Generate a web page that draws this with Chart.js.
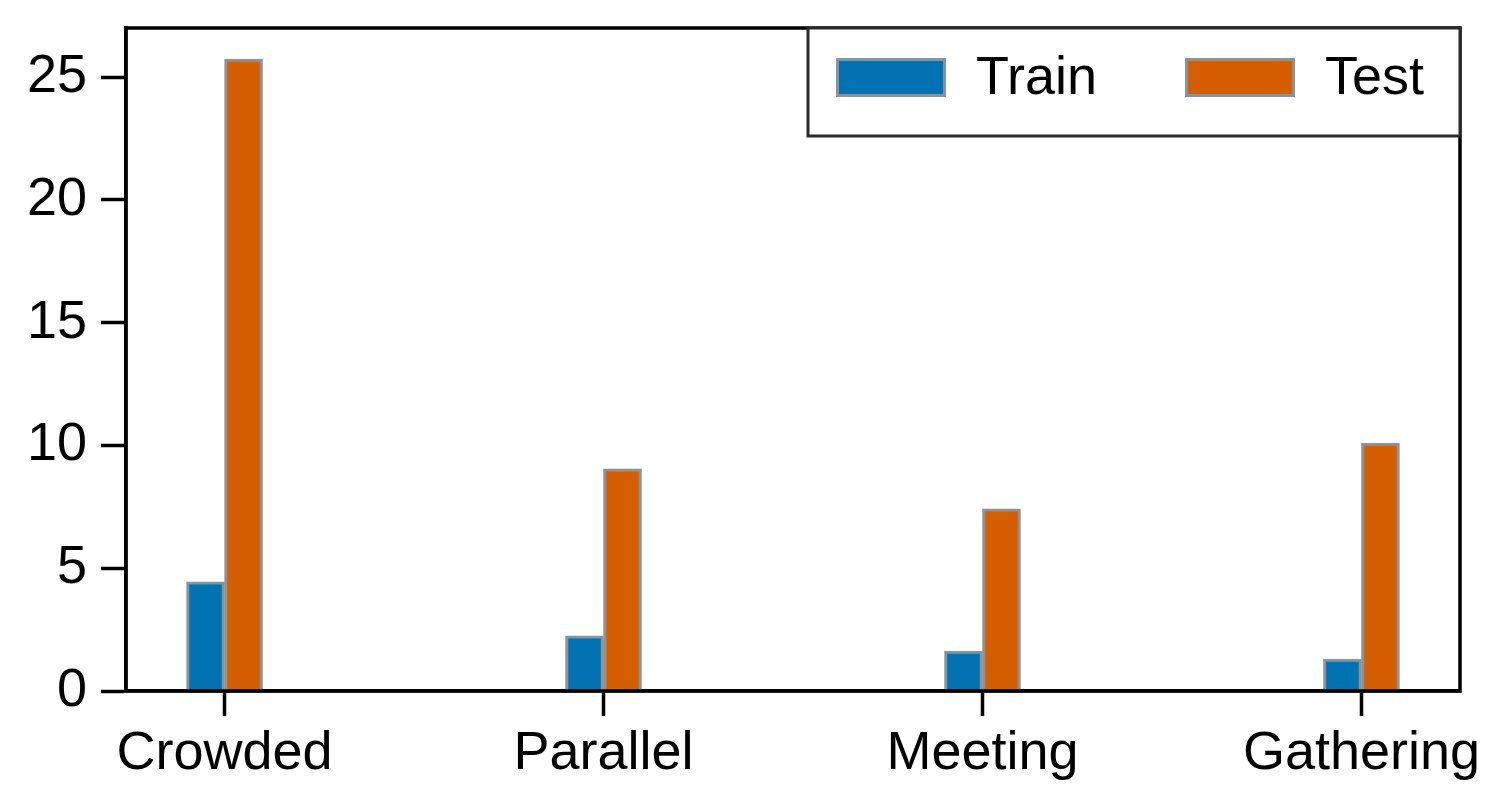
<!DOCTYPE html>
<html>
<head>
<meta charset="utf-8">
<script src="https://cdn.jsdelivr.net/npm/chart.js@4"></script>
<style>
    html, body { margin: 0; padding: 0; background: #fff; }
    #chart { display: block; }
</style>
</head>
<body>
<canvas id="chart" width="1510" height="810"></canvas>
<script>
// Values
const categories = ['Crowded', 'Parallel', 'Meeting', 'Gathering'];
const trainValues = [4.45, 2.25, 1.63, 1.3];
const testValues = [25.73, 9.05, 7.42, 10.1];
const yTicks = [0, 5, 10, 15, 20, 25];

const FONT = "'Liberation Sans', Arial, Helvetica, sans-serif";

const toPoints = (vals) => vals.map((v, i) => ({ x: i, y: v }));

// draws the frame around the plot area
const framePlugin = {
    id: 'frame',
    afterDatasetsDraw(chart) {
        const { ctx, chartArea: a } = chart;
        ctx.save();
        ctx.strokeStyle = '#000';
        ctx.lineWidth = 3.5;
        ctx.strokeRect(a.left, a.top, a.right - a.left, a.bottom - a.top);
        ctx.restore();
    },
};

// matplotlib-style boxed legend in the upper right corner
const boxLegendPlugin = {
    id: 'boxLegend',
    afterDraw(chart) {
        const { ctx, chartArea: a } = chart;
        const w = 652, h = 108;
        const x0 = a.right - w, y0 = a.top;
        ctx.save();
        ctx.fillStyle = '#fff';
        ctx.fillRect(x0, y0, w, h);
        ctx.strokeStyle = '#2a2a2a';
        ctx.lineWidth = 3;
        ctx.strokeRect(x0, y0, w, h);

        const offsets = [28, 377];
        chart.data.datasets.forEach((ds, i) => {
            const px = x0 + offsets[i];
            const py = y0 + 30;
            ctx.fillStyle = ds.backgroundColor;
            ctx.fillRect(px, py, 110, 39);
            ctx.strokeStyle = ds.borderColor;
            ctx.lineWidth = 3;
            ctx.strokeRect(px + 1.5, py + 1.5, 107, 36);
            ctx.fillStyle = '#000';
            ctx.font = `54px ${FONT}`;
            ctx.textBaseline = 'middle';
            ctx.textAlign = 'left';
            ctx.fillText(ds.label, px + 140, py + 21);
        });
        ctx.restore();
    },
};

const axisGrid = {
    drawOnChartArea: false,
    drawTicks: true,
    offset: false,
    tickLength: 25,
    tickWidth: 3.5,
    tickColor: '#000',
};

new Chart(document.getElementById('chart'), {
    type: 'bar',
    data: {
        datasets: [
            {
                label: 'Train',
                data: toPoints(trainValues),
                backgroundColor: '#0173b2',
                borderColor: '#8a939b',
                borderWidth: 3,
                barThickness: 38,
            },
            {
                label: 'Test',
                data: toPoints(testValues),
                backgroundColor: '#d55e00',
                borderColor: '#8a939b',
                borderWidth: 3,
                barThickness: 38,
            },
        ],
    },
    options: {
        responsive: false,
        animation: false,
        layout: { padding: { top: 28, right: 50, left: 0, bottom: 0 } },
        plugins: {
            legend: { display: false },
            tooltip: { enabled: false },
        },
        scales: {
            x: {
                type: 'linear',
                offset: false,
                min: -0.26,
                max: 3.26,
                afterBuildTicks: (scale) => {
                    scale.ticks = categories.map((c, i) => ({ value: i }));
                },
                afterFit: (scale) => {
                    scale.height = 119;
                    scale.paddingLeft = 0;
                    scale.paddingRight = 0;
                },
                grid: axisGrid,
                border: { display: true, color: '#000', width: 3.5 },
                ticks: {
                    color: '#000',
                    font: { family: FONT, size: 54, lineHeight: 1 },
                    padding: 11,
                    maxRotation: 0,
                    autoSkip: false,
                    callback: (v) => categories[v],
                },
            },
            y: {
                min: 0,
                max: 27,
                afterBuildTicks: (scale) => {
                    scale.ticks = yTicks.map((v) => ({ value: v }));
                },
                afterFit: (scale) => {
                    scale.width = 126;
                    scale.paddingTop = 0;
                    scale.paddingBottom = 0;
                },
                grid: axisGrid,
                border: { display: true, color: '#000', width: 3.5 },
                ticks: {
                    color: '#000',
                    font: { family: FONT, size: 54, lineHeight: 1 },
                    padding: 14,
                },
            },
        },
    },
    plugins: [framePlugin, boxLegendPlugin],
});
</script>
</body>
</html>
